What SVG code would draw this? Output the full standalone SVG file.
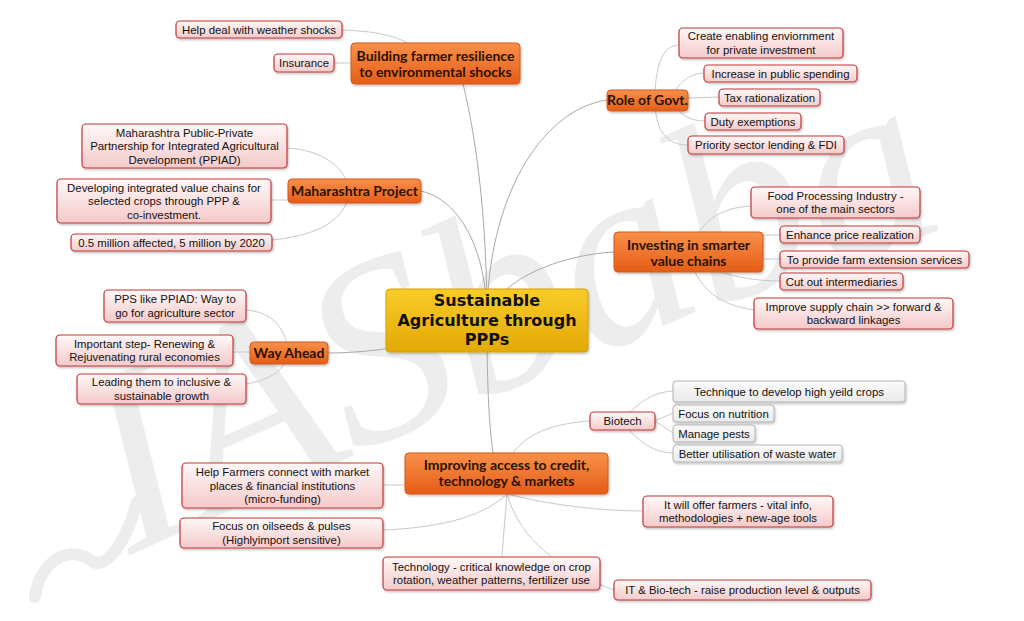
<svg xmlns="http://www.w3.org/2000/svg" width="1024" height="621" viewBox="0 0 1024 621">
<defs>
<linearGradient id="gPink" x1="0" y1="0" x2="0" y2="1"><stop offset="0" stop-color="#fff8f8"/><stop offset="1" stop-color="#f5c9c9"/></linearGradient>
<linearGradient id="gOrange" x1="0" y1="0" x2="0" y2="1"><stop offset="0" stop-color="#f8914a"/><stop offset="1" stop-color="#e55c17"/></linearGradient>
<linearGradient id="gGold" x1="0" y1="0" x2="0" y2="1"><stop offset="0" stop-color="#f9cc2a"/><stop offset="1" stop-color="#e3a905"/></linearGradient>
<linearGradient id="gGrey" x1="0" y1="0" x2="0" y2="1"><stop offset="0" stop-color="#fbfbfb"/><stop offset="1" stop-color="#e9e9e9"/></linearGradient>
<filter id="sh" x="-10%" y="-20%" width="120%" height="150%"><feDropShadow dx="1" dy="1.5" stdDeviation="1" flood-color="#000" flood-opacity="0.25"/></filter>
</defs>
<style>
.sub rect{fill:url(#gPink);stroke:#c0393b;stroke-width:1.2;filter:url(#sh)}
.grey rect{fill:url(#gGrey);stroke:#b5b5b5;stroke-width:1;filter:url(#sh)}
.main rect{fill:url(#gOrange);stroke:#d4591c;stroke-width:1;filter:url(#sh)}
.center rect{fill:url(#gGold);stroke:#d6a000;stroke-width:1;filter:url(#sh)}
.sub text,.grey text{font-family:"Liberation Sans",Arial,sans-serif;font-size:11.4px;fill:#111;text-anchor:middle}
.main text{font-family:Lato,"Open Sans",sans-serif;font-weight:bold;font-size:14px;fill:#2a1200;text-anchor:middle}
.center text{font-family:"DejaVu Sans",sans-serif;font-weight:bold;font-size:16px;fill:#111;text-anchor:middle}
#connectors path{fill:none;stroke:#c9c9c9;stroke-width:1}
#connectors .c0{stroke:#a8a8a8}
.wm{font-family:"Liberation Serif",serif;font-style:italic;font-size:260px;fill:#ededed}
</style>
<rect width="1024" height="621" fill="#ffffff"/>
<g id="watermark">
<path d="M35,597 C40,560 70,545 90,560 C105,572 125,545 137,502" fill="none" stroke="#ededed" stroke-width="12" stroke-linecap="round"/>
<text class="wm" transform="translate(130,555) rotate(-24)">I</text>
<text class="wm" transform="translate(209,520) rotate(-24)">A</text>
<text class="wm" transform="translate(354,455) rotate(-24)">S</text>
<text class="wm" transform="translate(473,405) rotate(-24)">b</text>
<text class="wm" transform="translate(592,358) rotate(-24)">a</text>
<text class="wm" transform="translate(712,312) rotate(-24)">b</text>
<text class="wm" transform="translate(835,276) rotate(-24)">a</text>
</g>
<g id="connectors">
<path class="c0" d="M487,320 C487,200 472,120 463,84"/>
<path class="c0" d="M487,320 C487,200 540,110 607,100"/>
<path class="c0" d="M487,320 C487,250 460,200 421,191"/>
<path class="c0" d="M487,320 C495,280 560,255 614,252"/>
<path class="c0" d="M487,330 C420,345 370,353 328,353"/>
<path class="c0" d="M487,320 C487,400 490,430 493,453"/>
<path d="M408,43 C390,34 370,31 342,30"/>
<path d="M351,63 L334,63"/>
<path d="M655,100 C655,60 665,45 679,45"/>
<path d="M670,100 C680,80 690,74 704,73"/>
<path d="M688,98 L719,97"/>
<path d="M670,100 C680,115 690,121 705,121"/>
<path d="M655,100 C655,135 670,145 688,145"/>
<path d="M350,191 C345,165 320,150 287,148"/>
<path d="M288,200 L271,200"/>
<path d="M350,191 C345,220 320,235 272,240"/>
<path d="M690,252 C700,220 720,208 751,206"/>
<path d="M763,235 L780,235"/>
<path d="M763,259 L780,259"/>
<path d="M720,272 C740,278 760,281 780,281"/>
<path d="M690,260 C700,290 720,305 754,310"/>
<path d="M289,353 C285,325 270,312 246,310"/>
<path d="M250,352 L233,352"/>
<path d="M289,353 C285,370 270,380 246,384"/>
<path d="M405,485 L383,485"/>
<path d="M507,494 C480,520 430,528 383,530"/>
<path d="M507,494 C550,505 600,511 643,511"/>
<path d="M507,494 C505,520 503,540 502,557"/>
<path d="M507,494 C520,540 560,570 614,590"/>
<path d="M513,453 C530,430 560,423 590,421"/>
<path d="M622,421 C640,400 655,392 673,391"/>
<path d="M655,421 L673,413"/>
<path d="M655,421 L673,433"/>
<path d="M622,421 C640,445 655,452 673,453"/>
</g>
<g id="n-center" class="center"><rect x="386" y="289" width="202" height="63" rx="4"/><text x="487" y="306">Sustainable</text><text x="487" y="326">Agriculture through</text><text x="487" y="345">PPPs</text></g>
<g id="n-building" class="main"><rect x="351" y="43" width="169" height="41" rx="4"/><text x="435.5" y="61">Building farmer resilience</text><text x="435.5" y="77">to environmental shocks</text></g>
<g id="n-role" class="main"><rect x="607" y="90" width="81" height="21" rx="4"/><text x="647.5" y="105">Role of Govt.</text></g>
<g id="n-maha" class="main"><rect x="288" y="179" width="133" height="24" rx="4"/><text x="354.5" y="196">Maharashtra Project</text></g>
<g id="n-invest" class="main"><rect x="614" y="232" width="149" height="40" rx="4"/><text x="688.5" y="249.5">Investing in smarter</text><text x="688.5" y="265.5">value chains</text></g>
<g id="n-way" class="main"><rect x="250" y="342" width="78" height="22" rx="4"/><text x="289" y="358">Way Ahead</text></g>
<g id="n-improve" class="main"><rect x="405" y="453" width="203" height="41" rx="4"/><text x="506.5" y="470">Improving access to credit,</text><text x="506.5" y="486">technology &amp; markets</text></g>
<g id="n-help" class="sub"><rect x="176" y="21" width="166" height="17" rx="4"/><text x="259" y="33.5">Help deal with weather shocks</text></g>
<g id="n-insurance" class="sub"><rect x="274" y="54" width="60" height="18" rx="4"/><text x="304" y="67">Insurance</text></g>
<g id="n-create" class="sub"><rect x="679" y="28" width="164" height="30" rx="4"/><text x="761" y="40.2">Create enabling enviornment</text><text x="761" y="53.7">for private investment</text></g>
<g id="n-increase" class="sub"><rect x="704" y="65" width="153" height="17" rx="4"/><text x="780.5" y="77.5">Increase in public spending</text></g>
<g id="n-tax" class="sub"><rect x="719" y="89" width="101" height="17" rx="4"/><text x="769.5" y="101.5">Tax rationalization</text></g>
<g id="n-duty" class="sub"><rect x="705" y="113" width="96" height="17" rx="4"/><text x="753" y="125.5">Duty exemptions</text></g>
<g id="n-priority" class="sub"><rect x="688" y="136" width="156" height="18" rx="4"/><text x="766" y="149">Priority sector lending &amp; FDI</text></g>
<g id="n-ppiad" class="sub"><rect x="82" y="124" width="205" height="44" rx="4"/><text x="184.5" y="136.5">Maharashtra Public-Private</text><text x="184.5" y="150">Partnership for Integrated Agricultural</text><text x="184.5" y="163.5">Development (PPIAD)</text></g>
<g id="n-develop" class="sub"><rect x="57" y="179" width="214" height="44" rx="4"/><text x="164" y="191.5">Developing integrated value chains for</text><text x="164" y="205">selected crops through PPP &amp;</text><text x="164" y="218.5">co-investment.</text></g>
<g id="n-million" class="sub"><rect x="71" y="234" width="201" height="17" rx="4"/><text x="171.5" y="246.5">0.5 million affected, 5 million by 2020</text></g>
<g id="n-food" class="sub"><rect x="751" y="187" width="169" height="31" rx="4"/><text x="835.5" y="199.8">Food Processing Industry -</text><text x="835.5" y="213.3">one of the main sectors</text></g>
<g id="n-enhance" class="sub"><rect x="780" y="226" width="140" height="17" rx="4"/><text x="850" y="238.5">Enhance price realization</text></g>
<g id="n-extension" class="sub"><rect x="780" y="251" width="189" height="17" rx="4"/><text x="874.5" y="263.5">To provide farm extension services</text></g>
<g id="n-cutout" class="sub"><rect x="780" y="273" width="123" height="17" rx="4"/><text x="841.5" y="285.5">Cut out intermediaries</text></g>
<g id="n-supply" class="sub"><rect x="754" y="298" width="199" height="31" rx="4"/><text x="853.5" y="310.8">Improve supply chain &gt;&gt; forward &amp;</text><text x="853.5" y="324.3">backward linkages</text></g>
<g id="n-pps" class="sub"><rect x="104" y="290" width="142" height="32" rx="4"/><text x="175" y="303.3">PPS like PPIAD: Way to</text><text x="175" y="316.8">go for agriculture sector</text></g>
<g id="n-important" class="sub"><rect x="56" y="335" width="177" height="31" rx="4"/><text x="144.5" y="347.8">Important step- Renewing &amp;</text><text x="144.5" y="361.3">Rejuvenating rural economies</text></g>
<g id="n-leading" class="sub"><rect x="77" y="374" width="169" height="30" rx="4"/><text x="161.5" y="386.3">Leading them to inclusive &amp;</text><text x="161.5" y="399.8">sustainable growth</text></g>
<g id="n-biotech" class="sub"><rect x="590" y="412" width="65" height="18" rx="4"/><text x="622.5" y="425">Biotech</text></g>
<g id="n-technique" class="grey"><rect x="673" y="381" width="232" height="21" rx="3"/><text x="789" y="395.5">Technique to develop high yeild crops</text></g>
<g id="n-nutrition" class="grey"><rect x="673" y="405" width="101" height="17" rx="3"/><text x="723.5" y="417.5">Focus on nutrition</text></g>
<g id="n-pests" class="grey"><rect x="673" y="425" width="82" height="17" rx="3"/><text x="714" y="437.5">Manage pests</text></g>
<g id="n-water" class="grey"><rect x="673" y="445" width="169" height="17" rx="3"/><text x="757.5" y="457.5">Better utilisation of waste water</text></g>
<g id="n-farmers" class="sub"><rect x="182" y="463" width="201" height="45" rx="4"/><text x="282.5" y="476">Help Farmers connect with market</text><text x="282.5" y="489.5">places &amp; financial institutions</text><text x="282.5" y="503">(micro-funding)</text></g>
<g id="n-oilseeds" class="sub"><rect x="180" y="518" width="203" height="30" rx="4"/><text x="281.5" y="530.3">Focus on oilseeds &amp; pulses</text><text x="281.5" y="543.8">(Highlyimport sensitive)</text></g>
<g id="n-offer" class="sub"><rect x="643" y="496" width="190" height="31" rx="4"/><text x="738" y="508.8">It will offer farmers - vital info,</text><text x="738" y="522.3">methodologies + new-age tools</text></g>
<g id="n-technology" class="sub"><rect x="383" y="557" width="217" height="33" rx="4"/><text x="491.5" y="570.8">Technology - critical knowledge on crop</text><text x="491.5" y="584.3">rotation, weather patterns, fertilizer use</text></g>
<g id="n-itbio" class="sub"><rect x="614" y="580" width="257" height="20" rx="4"/><text x="742.5" y="594">IT &amp; Bio-tech - raise production level &amp; outputs</text></g>
</svg>
